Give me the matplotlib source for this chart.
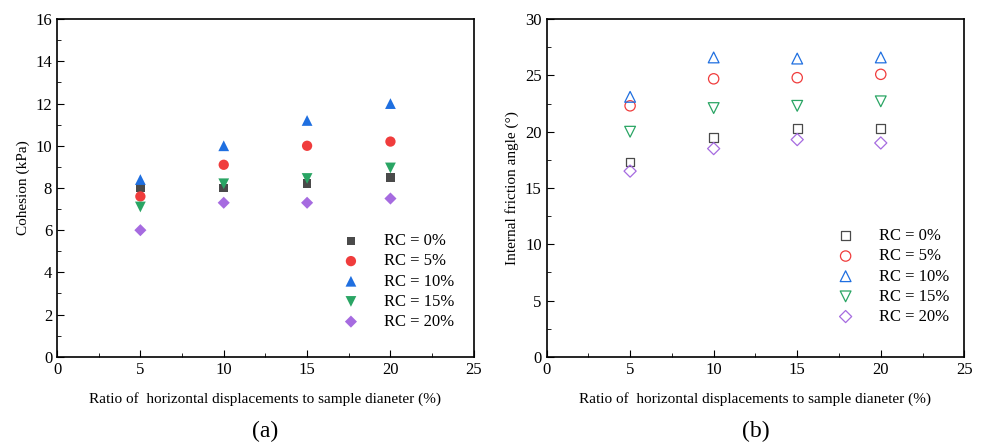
import matplotlib
matplotlib.use("Agg")
import matplotlib.pyplot as plt
from matplotlib.ticker import MultipleLocator

plt.rcParams["font.family"] = ["Liberation Serif", "DejaVu Serif"]
plt.rcParams["mathtext.fontset"] = "stix"

ratio = [5, 10, 15, 20]
labels = ["RC = 0%", "RC = 5%", "RC = 10%", "RC = 15%", "RC = 20%"]

# cohesion (kPa) for each RC
cohesion = [
    [8.0, 8.0, 8.2, 8.5],
    [7.6, 9.1, 10.0, 10.2],
    [8.4, 10.0, 11.2, 12.0],
    [7.1, 8.2, 8.45, 8.95],
    [6.0, 7.3, 7.3, 7.5],
]

# internal friction angle (deg) for each RC
friction = [
    [17.3, 19.5, 20.3, 20.3],
    [22.3, 24.7, 24.8, 25.1],
    [23.1, 26.6, 26.5, 26.6],
    [20.0, 22.1, 22.3, 22.7],
    [16.5, 18.5, 19.3, 19.0],
]

colors = ["#4a4a4a", "#f03c3c", "#1f6fe0", "#2aa564", "#a66be0"]
markers = ["s", "o", "^", "v", "D"]
sizes = [40, 55, 60, 60, 38]

fig = plt.figure(figsize=(9.83, 4.46), dpi=100)
ax1 = fig.add_axes([0.058, 0.2, 0.424, 0.757])
ax2 = fig.add_axes([0.556, 0.2, 0.425, 0.757])

for i in range(5):
    ax1.scatter(ratio, cohesion[i], marker=markers[i], s=sizes[i],
                color=colors[i], edgecolors="none", label=labels[i])
    ax2.scatter(ratio, friction[i], marker=markers[i], s=sizes[i],
                facecolors="none", edgecolors=colors[i], linewidths=0.9,
                label=labels[i])

ax1.set_ylim(0, 16)
ax1.yaxis.set_major_locator(MultipleLocator(2))
ax1.yaxis.set_minor_locator(MultipleLocator(1))
ax1.set_ylabel("Cohesion (kPa)", fontsize=11)

ax2.set_ylim(0, 30)
ax2.yaxis.set_major_locator(MultipleLocator(5))
ax2.yaxis.set_minor_locator(MultipleLocator(2.5))
ax2.set_ylabel("Internal friction angle (°)", fontsize=11)

for ax, tag, lx, ly in [(ax1, "(a)", 0.99, 0.035), (ax2, "(b)", 1.0, 0.05)]:
    ax.set_xlim(0, 25)
    ax.xaxis.set_major_locator(MultipleLocator(5))
    ax.xaxis.set_minor_locator(MultipleLocator(2.5))
    ax.set_xlabel("Ratio of  horizontal displacements to sample dianeter (%)",
                  fontsize=11, labelpad=10)
    ax.tick_params(which="both", direction="in", labelsize=12)
    ax.tick_params(which="major", length=5)
    ax.tick_params(which="minor", length=3)
    for s in ax.spines.values():
        s.set_linewidth(1.2)
    ax.legend(loc="lower right", bbox_to_anchor=(lx, ly), frameon=False,
              fontsize=12, handletextpad=1.0, labelspacing=0.25)
    ax.text(0.5, -0.22, tag, transform=ax.transAxes, ha="center", va="center",
            fontsize=17)

fig.savefig("out.png", dpi=100)
